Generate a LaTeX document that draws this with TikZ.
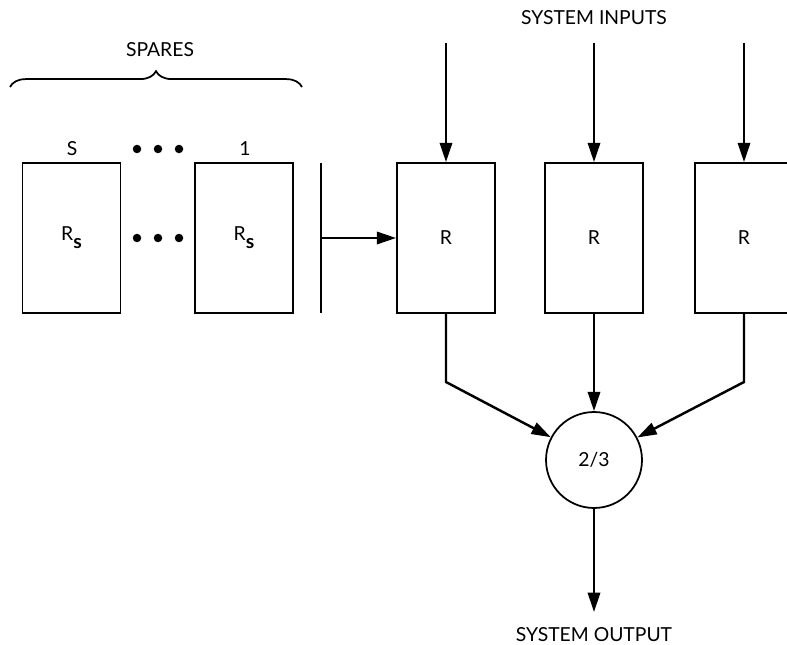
\documentclass[tikz,border=0pt]{standalone}
\usepackage{fontspec}
\setmainfont{Lato}
\usetikzlibrary{arrows.meta,decorations.pathreplacing}

\begin{document}
\begin{tikzpicture}[x=0.02cm, y=-0.02cm, line width=1pt,
  unit/.style={draw, rectangle, minimum width=1.96cm, minimum height=3cm, font=\fontsize{11}{13}\selectfont},
  sig/.style={-{Triangle[length=11pt,width=7pt]}, line width=1.4pt},
  lbl/.style={font=\fontsize{11}{13}\selectfont},
  dot/.style={fill, circle, inner sep=0pt, minimum size=0.17cm}]
\useasboundingbox (0,0) rectangle (787,645);
\clip (0,0) rectangle (787,645);

% spare units
\node[lbl] (spares) at (160,50) {SPARES};
\draw[decorate, decoration={brace, amplitude=9pt}] (10,87) -- (302,87);
\node[lbl] (nS) at (72,149) {S};
\node[lbl] (n1) at (245,149) {1};
\node[dot] (d1) at (137,149) {};
\node[dot] (d2) at (158,149) {};
\node[dot] (d3) at (179,149) {};
\node[unit] (spS) at (71.5,238) {R\raisebox{-0.8ex}{\bfseries s}};
\node[unit] (sp1) at (244,238) {R\raisebox{-0.8ex}{\bfseries s}};
\node[dot] (d4) at (137,238) {};
\node[dot] (d5) at (158,238) {};
\node[dot] (d6) at (179,238) {};

% switch
\coordinate (bartop) at (321,163);
\coordinate (barbot) at (321,313);
\draw (bartop) -- (barbot);

% active units
\node[unit] (r1) at (446,238) {R};
\node[unit] (r2) at (594,238) {R};
\node[unit] (r3) at (744,238) {R};
\draw[sig] (bartop |- r1) -- (r1.west);

\node[lbl] (inputs) at (594,18) {SYSTEM INPUTS};
\coordinate (in1) at (446,43);
\coordinate (in2) at (594,43);
\coordinate (in3) at (744,43);
\draw[sig] (in1) -- (r1.north);
\draw[sig] (in2) -- (r2.north);
\draw[sig] (in3) -- (r3.north);

% voter
\node[draw, circle, minimum size=1.92cm, lbl] (vote) at (594,460) {2/3};
\coordinate (k1) at (446,382);
\coordinate (k3) at (744,382);
\draw[sig] (r1.south) -- (k1) -- (vote);
\draw[sig] (r2.south) -- (vote.north);
\draw[sig] (r3.south) -- (k3) -- (vote);

\coordinate (out) at (594,612);
\draw[sig] (vote.south) -- (out);
\node[lbl] (output) at (594,635) {SYSTEM OUTPUT};
\end{tikzpicture}
\end{document}
